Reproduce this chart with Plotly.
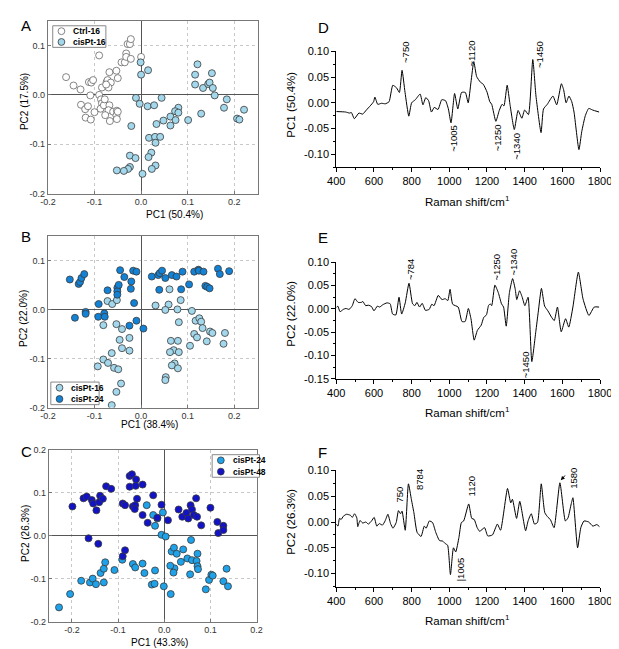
import plotly.graph_objects as go

# ---------------- scatter data (PCA scores) ----------------
a_ctrl16_pc1 = [-0.161, -0.145, -0.130, -0.112, -0.107, -0.103, -0.090, -0.129, -0.120, -0.114,
                -0.119, -0.108, -0.100, -0.109, -0.090, -0.086, -0.084, -0.074, -0.072, -0.068,
                -0.065, -0.070, -0.075, -0.084, -0.087, -0.080, -0.078, -0.068, -0.070, -0.060,
                -0.077, -0.067, -0.052, -0.053, -0.052, -0.050, -0.053, -0.050, -0.042, -0.035,
                -0.032, -0.032, -0.029, -0.024, -0.022, -0.022, 0.000]
a_ctrl16_pc2 = [0.036, 0.019, 0.011, 0.026, 0.025, 0.030, 0.080, -0.020, -0.029, -0.023,
                -0.046, -0.050, -0.035, -0.001, 0.000, -0.009, 0.015, 0.026, 0.030, 0.046,
                0.025, 0.015, 0.021, -0.017, -0.028, -0.021, -0.009, -0.021, -0.031, -0.034,
                -0.041, -0.053, -0.032, -0.042, -0.049, -0.034, 0.049, 0.034, 0.066, 0.066,
                0.084, 0.077, 0.103, 0.103, 0.113, 0.073, 0.077]
a_cis16_pc1 = [-0.001, 0.000, 0.015, -0.011, -0.003, -0.021, 0.014, 0.028, 0.044, 0.080,
               0.073, 0.080, 0.063, 0.074, 0.101, 0.048, 0.033, 0.063, 0.017, 0.030,
               0.041, 0.031, -0.024, -0.012, 0.022, 0.016, -0.024, -0.028, -0.037, -0.052,
               0.031, 0.023, 0.003, 0.116, 0.121, 0.116, 0.133, 0.144, 0.147, 0.152,
               0.154, 0.158, 0.184, 0.178, 0.129, 0.206, 0.211, 0.221]
a_cis16_pc2 = [0.066, 0.041, 0.050, -0.006, -0.018, -0.063, -0.023, -0.021, -0.006, -0.026,
               -0.033, -0.036, -0.044, -0.051, -0.051, -0.052, -0.059, -0.062, -0.087, -0.085,
               -0.085, -0.097, -0.123, -0.128, -0.117, -0.126, -0.146, -0.150, -0.154, -0.153,
               -0.143, -0.150, -0.160, 0.041, 0.062, 0.021, 0.014, 0.022, 0.025, 0.044,
               0.014, -0.001, -0.009, -0.026, -0.038, -0.048, -0.050, -0.030]

b_cis16_pc1 = [-0.072, -0.062, -0.052, -0.081, -0.053, -0.041, -0.046, -0.041, -0.025, -0.025,
               -0.063, -0.081, -0.071, -0.093, -0.058, -0.049, -0.043, -0.053, -0.063, 0.031,
               0.059, 0.052, 0.061, 0.085, 0.078, 0.109, 0.081, 0.117, 0.125, 0.129,
               0.132, 0.114, 0.120, 0.105, 0.148, 0.153, 0.141, 0.180, 0.177, 0.064,
               0.079, 0.070, 0.081, 0.062, 0.072, 0.066, 0.079, 0.053, 0.052]
b_cis16_pc2 = [0.017, 0.011, 0.019, -0.032, -0.030, -0.040, -0.062, -0.079, -0.058, -0.084,
               -0.089, -0.102, -0.109, -0.116, -0.119, -0.122, -0.151, -0.168, -0.195, 0.008,
               0.010, -0.001, 0.041, 0.019, 0.000, -0.003, -0.026, -0.023, -0.018, -0.025,
               -0.038, -0.050, -0.057, -0.074, -0.045, -0.048, -0.065, -0.048, -0.070, -0.064,
               -0.064, -0.083, -0.087, -0.087, -0.110, -0.114, -0.120, -0.138, -0.144]
b_cis24_pc1 = [-0.153, -0.134, -0.131, -0.128, -0.122, -0.142, -0.119, -0.119, -0.091, -0.092,
               -0.079, -0.078, -0.072, -0.051, -0.051, -0.051, -0.048, -0.045, -0.036, -0.021,
               -0.022, -0.017, -0.010, -0.015, -0.025, -0.010, 0.005, 0.023, 0.037, 0.040,
               0.045, 0.052, 0.039, 0.066, 0.076, 0.089, 0.086, 0.103, 0.114, 0.123,
               0.124, 0.134, 0.138, 0.142, 0.147, 0.165, 0.169, 0.189]
b_cis24_pc2 = [0.061, 0.052, 0.056, 0.064, 0.072, -0.017, -0.005, -0.009, 0.011, -0.015,
               -0.008, -0.015, 0.039, 0.044, 0.037, 0.030, 0.050, 0.080, 0.066, 0.057,
               0.042, 0.079, 0.077, 0.013, -0.033, -0.023, -0.039, 0.067, 0.070, 0.074,
               0.079, 0.064, 0.040, 0.070, 0.067, 0.077, 0.041, 0.051, 0.077, 0.081,
               0.079, 0.077, 0.048, 0.046, 0.043, 0.083, 0.072, 0.078]

c_cis24_pc1 = [-0.228, -0.204, -0.180, -0.161, -0.155, -0.148, -0.138, -0.131, -0.128, -0.131,
               -0.108, -0.091, -0.068, -0.063, -0.047, -0.043, -0.020, -0.027, -0.021, -0.001,
               -0.038, -0.024, -0.020, -0.015, -0.003, -0.006, 0.003, 0.016, 0.021, 0.027,
               0.022, 0.020, 0.013, 0.036, 0.041, 0.050, 0.058, 0.060, 0.070, 0.072,
               0.072, 0.073, 0.056, 0.014, 0.097, 0.102, 0.105, 0.090, 0.128, 0.135, 0.138]
c_cis24_pc2 = [-0.167, -0.136, -0.105, -0.109, -0.100, -0.113, -0.087, -0.077, -0.062, -0.109,
               -0.080, -0.056, -0.066, -0.074, -0.065, -0.087, -0.081, -0.114, -0.112, -0.118,
               0.071, 0.048, 0.023, 0.040, 0.054, 0.002, -0.002, -0.037, -0.028, -0.042,
               -0.076, -0.086, -0.070, -0.061, -0.032, -0.053, -0.010, -0.057, -0.059, -0.042,
               -0.071, -0.078, -0.090, -0.136, -0.103, -0.091, -0.093, -0.125, -0.106, -0.077, -0.118]
c_cis48_pc1 = [-0.199, -0.175, -0.168, -0.157, -0.154, -0.147, -0.141, -0.139, -0.133, -0.126,
               -0.115, -0.164, -0.143, -0.090, -0.085, -0.090, -0.085, -0.075, -0.070, -0.075,
               -0.061, -0.062, -0.068, -0.063, -0.064, -0.059, -0.047, -0.047, -0.036, -0.024,
               -0.015, -0.006, 0.008, 0.031, 0.039, 0.048, 0.052, 0.057, 0.060, 0.064,
               0.069, 0.071, 0.080, 0.100, 0.115, 0.117, 0.128, 0.128]
c_cis48_pc2 = [0.068, 0.087, 0.091, 0.083, 0.075, 0.059, 0.078, 0.093, 0.086, 0.115,
               0.109, -0.006, -0.019, 0.075, 0.071, -0.048, -0.034, 0.139, 0.143, 0.114,
               0.131, 0.116, 0.068, 0.071, 0.062, 0.086, 0.119, 0.048, 0.030, 0.094,
               0.042, 0.072, 0.036, 0.061, 0.044, 0.053, 0.040, 0.071, 0.061, 0.048,
               0.087, 0.044, 0.024, 0.065, 0.032, 0.006, 0.023, 0.013]

# ---------------- loading spectra ----------------
d_wn = [400, 450, 470, 480, 496, 520, 540, 560, 580, 598, 605, 620, 640, 660, 680, 700, 720, 735,
        749, 765, 785, 800, 820, 845, 860, 875, 890, 905, 920, 940, 960, 980, 995, 1009, 1028, 1045,
        1065, 1085, 1100, 1115, 1130, 1145, 1165, 1180, 1200, 1215, 1225, 1247, 1265, 1280, 1290,
        1307, 1322, 1345, 1365, 1385, 1400, 1420, 1443, 1460, 1487, 1500, 1520, 1550, 1570, 1595,
        1607, 1620, 1635, 1650, 1662, 1688, 1703, 1722, 1740, 1760, 1795]
d_pc1 = [-0.017, -0.018, -0.020, -0.019, -0.031, -0.020, -0.022, -0.014, -0.006, 0.002, 0.011,
         -0.003, -0.001, -0.002, 0.002, 0.034, 0.029, 0.020, 0.063, 0.020, -0.026, 0.000, 0.006,
         0.017, -0.004, 0.010, 0.004, -0.018, -0.009, -0.013, 0.006, 0.004, -0.012, -0.039, 0.018,
         -0.012, 0.020, 0.020, 0.000, 0.040, 0.080, 0.051, 0.040, 0.036, 0.021, 0.002, -0.003,
         -0.036, -0.015, -0.003, -0.006, 0.034, -0.003, -0.052, -0.015, -0.030, -0.014, -0.023,
         0.084, 0.013, -0.058, -0.012, -0.003, 0.013, -0.004, 0.037, 0.025, 0.000, 0.013, 0.002,
         -0.018, -0.091, -0.056, -0.025, -0.011, -0.014, -0.018]

e_wn = [400, 408, 420, 437, 451, 468, 485, 499, 516, 533, 541, 556, 570, 587, 600, 618, 630, 647,
        669, 686, 699, 716, 733, 747, 766, 786, 805, 817, 828, 842, 856, 873, 893, 907, 919, 941,
        961, 978, 992, 1004, 1018, 1047, 1067, 1084, 1101, 1115, 1132, 1149, 1169, 1183, 1197,
        1208, 1217, 1225, 1242, 1260, 1277, 1288, 1302, 1319, 1336, 1350, 1358, 1373, 1387, 1401,
        1418, 1438, 1459, 1472, 1489, 1506, 1523, 1543, 1557, 1574, 1594, 1617, 1634, 1656, 1685,
        1710, 1741, 1769, 1795]
e_pc2 = [0.003, 0.006, -0.006, -0.001, 0.001, -0.001, 0.007, 0.022, 0.014, 0.014, 0.016, 0.007,
         0.008, 0.005, -0.004, 0.006, 0.004, 0.009, 0.013, 0.011, -0.011, -0.013, 0.025, -0.011,
         0.013, 0.055, 0.011, 0.007, 0.014, 0.004, 0.012, -0.003, -0.001, 0.010, 0.007, 0.029,
         0.020, 0.022, 0.018, 0.042, 0.010, 0.004, -0.027, -0.027, 0.001, -0.021, -0.067, -0.046,
         -0.035, -0.018, -0.013, 0.007, 0.011, 0.007, 0.051, 0.035, 0.011, 0.004, -0.037, 0.035,
         0.065, 0.042, 0.020, 0.039, 0.025, 0.007, 0.025, -0.113, -0.049, -0.007, 0.044, 0.006,
         -0.004, -0.018, -0.025, 0.004, -0.049, -0.021, -0.039, 0.004, 0.079, 0.021, -0.014,
         0.004, 0.004]

f_wn = [400, 409, 417, 426, 437, 454, 475, 485, 497, 509, 514, 526, 540, 557, 570, 587, 601, 615,
        628, 645, 659, 674, 688, 701, 718, 730, 741, 749, 766, 783, 799, 812, 829, 850, 867, 877,
        894, 911, 928, 948, 965, 979, 991, 1006, 1022, 1034, 1051, 1064, 1076, 1103, 1119, 1132,
        1148, 1161, 1187, 1204, 1229, 1255, 1272, 1309, 1326, 1335, 1357, 1374, 1405, 1418, 1435,
        1452, 1468, 1488, 1507, 1524, 1536, 1556, 1587, 1616, 1630, 1647, 1656, 1681, 1698, 1715,
        1740, 1762, 1783, 1797]
f_pc2 = [-0.004, -0.008, 0.007, 0.005, 0.011, 0.015, 0.013, 0.009, 0.016, 0.008, -0.009, 0.003,
         -0.002, 0.000, -0.004, 0.002, 0.009, -0.008, -0.003, -0.006, 0.002, 0.015, -0.003, -0.012,
         -0.001, 0.022, 0.016, 0.021, -0.016, 0.074, 0.043, 0.018, -0.020, -0.028, -0.008, -0.012,
         0.002, -0.001, -0.020, -0.036, -0.037, -0.042, -0.045, -0.102, -0.050, -0.058, -0.030,
         -0.001, 0.002, 0.035, 0.007, 0.005, -0.011, -0.018, -0.011, -0.027, -0.025, -0.004,
         -0.016, 0.065, 0.037, 0.044, 0.007, 0.040, -0.017, 0.002, 0.016, -0.004, -0.001, 0.074,
         0.018, 0.009, 0.005, -0.011, 0.076, 0.002, 0.008, 0.035, 0.047, -0.050, -0.011, 0.002,
         0.000, -0.008, -0.005, -0.009]

# peak labels: (text, wavenumber, value)
d_peaks = [("~750", 768, 0.098), ("~1120", 1116, 0.096), ("~1450", 1479, 0.094),
           ("~1005", 1025, -0.070), ("~1250", 1253, -0.067), ("~1340", 1355, -0.085)]
e_peaks = [("~784", 793, 0.084), ("~1250", 1251, 0.090), ("~1340", 1339, 0.100),
           ("~1450", 1404, -0.120)]
f_peaks = [("750", 735, 0.054), ("8784", 838, 0.083), ("1120", 1115, 0.069),
           ("|1005", 1064, -0.091), ("1580", 1655, 0.085)]

pc_ticks = [-0.2, -0.1, 0.0, 0.1, 0.2]
pc_ticktext = ["-0.2", "-0.1", "0.0", "0.1", "0.2"]
ld_ticks = [-0.15, -0.10, -0.05, 0.0, 0.05, 0.10]
ld_ticktext = ["-0.15", "-0.10", "-0.05", "0.00", "0.05", "0.10"]

# group names and colours: (name, fill, outline)
ctrl16 = ("Ctrl-16", "white", "#666666")
cis16 = ("cisPt-16", "#a3d8ec", "#3a3a3a")
cis24_b = ("cisPt-24", "#1282d6", "#3a3a3a")
cis24_c = ("cisPt-24", "#1ea2ea", "#3a3a3a")
cis48 = ("cisPt-48", "#1212c6", "#3a3a3a")

W, H = 619, 649
FONT = "Arial, Liberation Sans, sans-serif"


def px_x(p):
    return p / W


def px_y(p):
    return 1 - p / H


fig = go.Figure()


def add_points(x, y, group, axis):
    name, fill, line = group
    fig.add_trace(go.Scatter(
        x=x, y=y, mode="markers", name=name, showlegend=False,
        marker=dict(size=7, color=fill, line=dict(color=line, width=0.8)),
        xaxis="x" + axis, yaxis="y" + axis))


add_points(a_ctrl16_pc1, a_ctrl16_pc2, ctrl16, "")
add_points(a_cis16_pc1, a_cis16_pc2, cis16, "")
add_points(b_cis16_pc1, b_cis16_pc2, cis16, "2")
add_points(b_cis24_pc1, b_cis24_pc2, cis24_b, "2")
add_points(c_cis24_pc1, c_cis24_pc2, cis24_c, "3")
add_points(c_cis48_pc1, c_cis48_pc2, cis48, "3")

for wn, val, ax in [(d_wn, d_pc1, "4"), (e_wn, e_pc2, "5"), (f_wn, f_pc2, "6")]:
    fig.add_trace(go.Scatter(
        x=wn, y=val, mode="lines", line=dict(color="black", width=1, shape="spline", smoothing=0.5),
        xaxis="x" + ax, yaxis="y" + ax, showlegend=False))


def scatter_axes(n, xdom, ydom, xr, yr):
    common = dict(showline=True, linecolor="#777777", linewidth=1, mirror=True,
                  showgrid=True, gridcolor="#c8c8c8", griddash="dot", gridwidth=0.8,
                  zeroline=True, zerolinecolor="#555555", zerolinewidth=1.2,
                  ticks="inside", ticklen=3, tickcolor="#777777",
                  tickmode="array", tickvals=pc_ticks, ticktext=pc_ticktext,
                  tickfont=dict(size=9, color="#333333"))
    s = "" if n == 1 else str(n)
    fig.layout["xaxis" + s] = dict(domain=xdom, range=xr, anchor="y" + s, **common)
    fig.layout["yaxis" + s] = dict(domain=ydom, range=yr, anchor="x" + s, **common)


scatter_axes(1, [px_x(32), px_x(249)], [px_y(183), px_y(7)], [-0.2, 0.25], [-0.2, 0.15])
scatter_axes(2, [px_x(32), px_x(249)], [px_y(401), px_y(226)], [-0.2, 0.25], [-0.2, 0.15])
scatter_axes(3, [px_x(33), px_x(248)], [px_y(619), px_y(444)], [-0.25, 0.2], [-0.2, 0.2])


def loading_axes(n, ydom, yr):
    common = dict(showline=True, linecolor="black", linewidth=1, mirror=False,
                  showgrid=False, zeroline=False, ticks="outside", ticklen=4,
                  tickcolor="black", tickfont=dict(size=11, color="black"))
    s = str(n)
    keep = [i for i, v in enumerate(ld_ticks) if v >= yr[0] - 1e-9]
    fig.layout["xaxis" + s] = dict(domain=[px_x(330.5), px_x(603.5)], range=[400, 1800],
                                   anchor="y" + s, tickmode="linear", tick0=400, dtick=200,
                                   minor=dict(ticks="outside", ticklen=2, dtick=100, tick0=400,
                                              tickcolor="black"),
                                   **common)
    fig.layout["yaxis" + s] = dict(domain=ydom, range=yr, anchor="x" + s, tickmode="array",
                                   tickvals=[ld_ticks[i] for i in keep],
                                   ticktext=[ld_ticktext[i] for i in keep],
                                   minor=dict(ticks="outside", ticklen=2, tickmode="linear",
                                              tick0=0, dtick=0.025, tickcolor="black"),
                                   **common)


loading_axes(4, [px_y(156), px_y(38)], [-0.125, 0.1])
loading_axes(5, [px_y(371.7), px_y(253)], [-0.15, 0.1])
loading_axes(6, [px_y(583.3), px_y(465)], [-0.125, 0.1])

ann = []
shapes = []


def text(t, x, y, size, angle=0, xa="center", ya="middle", bold=False):
    ann.append(dict(text=t, x=px_x(x), y=px_y(y), xref="paper", yref="paper",
                    xanchor=xa, yanchor=ya, textangle=angle, showarrow=False,
                    font=dict(size=size, color="black", family=FONT,
                              weight="bold" if bold else "normal")))


def legend_box(x0, y0, x1, y1, groups):
    # framed key in the corner of a score plot
    shapes.append(dict(type="rect", xref="paper", yref="paper",
                       x0=px_x(x0), x1=px_x(x1), y0=px_y(y1), y1=px_y(y0),
                       line=dict(color="#888888", width=1), fillcolor="white", layer="above"))
    step = (y1 - y0) / len(groups)
    for i, (name, fill, line) in enumerate(groups):
        cy = y0 + step * (i + 0.5)
        cx = x0 + 9
        shapes.append(dict(type="circle", xref="paper", yref="paper",
                           x0=px_x(cx - 3.5), x1=px_x(cx + 3.5),
                           y0=px_y(cy + 3.5), y1=px_y(cy - 3.5),
                           line=dict(color=line, width=0.8), fillcolor=fill, layer="above"))
        text(name, x0 + 19, cy, 8.5, xa="left", bold=True)


legend_box(37, 12, 92, 34, [ctrl16, cis16])
legend_box(35, 375, 85, 398, [cis16, cis24_b])
legend_box(202, 449, 251, 472, [cis24_c, cis48])

# panel letters
for letter, x, y in [("A", 2, 1), ("B", 2, 216), ("C", 2, 435), ("D", 310, 3), ("E", 310, 217), ("F", 310, 436)]:
    text(letter, x, y, 15, xa="left", ya="top")

# scatter titles
text("PC1 (50.4%)", 163, 204, 10)
text("PC2 (17.5%)", 8, 89, 10, angle=-90)
text("PC1 (38.4%)", 137, 418, 10)
text("PC2 (22.0%)", 7, 310, 10, angle=-90)
text("PC1 (43.3%)", 147, 640, 10)
text("PC2 (26.3%)", 8, 529, 10, angle=-90)

# loading titles
for ylab, yc, xt in [("PC1 (50.4%)", 92, 191), ("PC2 (22.0%)", 305, 405), ("PC2 (26.3%)", 517, 617)]:
    text(ylab, 284, yc, 11.5, angle=-90)
    text("Raman shift/cm<sup>1</sup>", 466, xt, 11.5)

# peak labels
for peaks, ax in [(d_peaks, "4"), (e_peaks, "5"), (f_peaks, "6")]:
    for t, wn, v in peaks:
        ann.append(dict(text=t, x=wn, y=v, xref="x" + ax, yref="y" + ax, textangle=-90,
                        showarrow=False, xanchor="center", yanchor="middle",
                        font=dict(size=9.5, color="black", family=FONT)))

# arrow to the 1580 band
ann.append(dict(text="", x=1592, y=0.081, ax=1621, ay=0.093, xref="x6", yref="y6",
                axref="x6", ayref="y6", showarrow=True, arrowhead=2, arrowsize=0.8,
                arrowwidth=1, arrowcolor="black"))

fig.update_layout(
    width=W, height=H, margin=dict(l=0, r=0, t=0, b=0),
    paper_bgcolor="white", plot_bgcolor="white",
    font=dict(family=FONT, color="black"),
    annotations=ann, shapes=shapes, showlegend=False,
)

fig.write_html("out.html")
